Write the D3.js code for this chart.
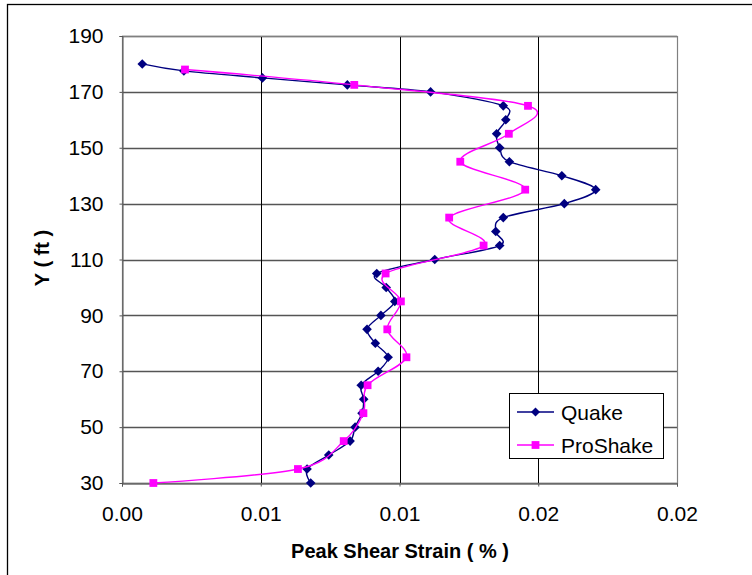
<!DOCTYPE html>
<html>
<head>
<meta charset="utf-8">
<script src="https://cdn.jsdelivr.net/npm/d3@7"></script>
<style>
  html, body { margin: 0; padding: 0; background: #fff; }
  svg { display: block; }
  text { font-family: "Liberation Sans", Arial, sans-serif; fill: #000; }
</style>
</head>
<body>
<svg id="chart" width="752" height="575"></svg>
<script>
// ---- data ----
const quakeDepth  = [180, 177.5, 175, 172.5, 170, 165, 160, 155, 150, 145, 140, 135, 130, 125, 120, 115, 110, 105, 100, 95, 90, 85, 80, 75, 70, 65, 60, 55, 50, 45, 40, 35, 30];
const quakeStrain = [0.00073, 0.00223, 0.00506, 0.00812, 0.01112, 0.01374, 0.01383, 0.01350, 0.01361, 0.01396, 0.01585, 0.01707, 0.01594, 0.01374, 0.01347, 0.01361, 0.01127, 0.00918, 0.00952, 0.00983, 0.00933, 0.00883, 0.00913, 0.00959, 0.00923, 0.00862, 0.00871, 0.00865, 0.00840, 0.00822, 0.00745, 0.00667, 0.00680];
const proDepth    = [178, 172.5, 165, 155, 145, 135, 125, 115, 105, 95, 85, 75, 65, 55, 45, 35, 30];
const proStrain   = [0.00227, 0.00837, 0.01463, 0.01394, 0.01219, 0.01453, 0.01179, 0.01303, 0.00950, 0.01005, 0.00956, 0.01025, 0.00885, 0.00870, 0.00799, 0.00634, 0.00113];
const xTickValues = [0, 0.005, 0.01, 0.015, 0.02];
const xTickLabels = ["0.00", "0.01", "0.01", "0.02", "0.02"];
const yTickValues = [30, 50, 70, 90, 110, 130, 150, 170, 190];
const seriesNames = ["Quake", "ProShake"];
const seriesColors = ["#000080", "#FF00FF"];

// ---- layout ----
const svg = d3.select("#chart");
const L = 122, R = 677, T = 36, B = 483;
const x = d3.scaleLinear().domain([0, 0.02]).range([L, R]);
const y = d3.scaleLinear().domain([30, 190]).range([B, T]);

// outer chart border
svg.append("rect").attr("x", 7.5).attr("y", 4.5).attr("width", 800).attr("height", 700)
  .attr("fill", "#fff").attr("stroke", "#000").attr("stroke-width", 1.3);

// horizontal gridlines
svg.append("g").selectAll("line").data(yTickValues).join("line")
  .attr("x1", L).attr("x2", R)
  .attr("y1", d => Math.round(y(d)) + 0.5).attr("y2", d => Math.round(y(d)) + 0.5)
  .attr("stroke", "#555").attr("stroke-width", 1.4);
// vertical gridlines
svg.append("g").selectAll("line").data(xTickValues).join("line")
  .attr("y1", T).attr("y2", B)
  .attr("x1", d => Math.round(x(d)) + 0.5).attr("x2", d => Math.round(x(d)) + 0.5)
  .attr("stroke", "#000").attr("stroke-width", 1);

// plot border
svg.append("rect").attr("x", L + 0.5).attr("y", T + 0.5).attr("width", R - L).attr("height", B - T)
  .attr("fill", "none").attr("stroke", "#808080").attr("stroke-width", 1.2);

// axes (labels via d3 axes)
const yAxis = d3.axisLeft(y).tickValues(yTickValues).tickSize(3).tickPadding(16).tickFormat(d3.format("d"));
const gy = svg.append("g").attr("transform", `translate(${L + 0.5},0)`).call(yAxis);
gy.select(".domain").attr("stroke", "#555");
gy.selectAll(".tick line").attr("stroke", "#555");
gy.selectAll("text").style("font-size", "21px").attr("fill", "#000")
  .style("font-family", "'Liberation Sans', Arial, sans-serif");

const xAxis = d3.axisBottom(x).tickValues(xTickValues).tickSize(3).tickPadding(20)
  .tickFormat((d, i) => xTickLabels[i]);
const gx = svg.append("g").attr("transform", `translate(0,${B + 0.5})`).call(xAxis);
gx.select(".domain").attr("stroke", "#555");
gx.selectAll(".tick line").attr("stroke", "#555");
gx.selectAll("text").style("font-size", "21px").attr("fill", "#000")
  .style("font-family", "'Liberation Sans', Arial, sans-serif");

// axis titles
svg.append("text").attr("x", 400).attr("y", 558).attr("text-anchor", "middle")
  .style("font-size", "20px").style("font-weight", "bold").text("Peak Shear Strain ( % )");
svg.append("text").attr("transform", "translate(49,258) rotate(-90)").attr("text-anchor", "middle")
  .style("font-size", "20px").style("font-weight", "bold").text("Y ( ft )");

// series
const curve = d3.curveCatmullRom.alpha(0);
const line = d3.line().x(d => x(d[0])).y(d => y(d[1])).curve(curve);
const quake = quakeStrain.map((v, i) => [v, quakeDepth[i]]);
const pro = proStrain.map((v, i) => [v, proDepth[i]]);

const diamond = (s) => `M0,${-s}L${s},0L0,${s}L${-s},0Z`;
const square = (s) => `M${-s},${-s}H${s}V${s}H${-s}Z`;

function drawSeries(data, color, shape) {
  const g = svg.append("g");
  g.append("path").datum(data).attr("d", line).attr("fill", "none")
    .attr("stroke", color).attr("stroke-width", 1.4);
  g.selectAll("path.m").data(data).join("path").attr("class", "m")
    .attr("transform", d => `translate(${x(d[0])},${y(d[1])})`)
    .attr("d", shape).attr("fill", color).attr("stroke", "none");
}
drawSeries(quake, seriesColors[0], diamond(4.8));
drawSeries(pro, seriesColors[1], square(3.9));

// legend
const lg = svg.append("g");
lg.append("rect").attr("x", 509.5).attr("y", 393.5).attr("width", 154).attr("height", 65)
  .attr("fill", "#fff").attr("stroke", "#000").attr("stroke-width", 1);
const legendShapes = [diamond(4.5), square(3.9)];
seriesNames.forEach((name, i) => {
  const yy = 412 + i * 33;
  lg.append("line").attr("x1", 517).attr("x2", 554).attr("y1", yy).attr("y2", yy)
    .attr("stroke", seriesColors[i]).attr("stroke-width", 1.4);
  lg.append("path").attr("transform", `translate(535.5,${yy})`).attr("d", legendShapes[i])
    .attr("fill", seriesColors[i]);
  lg.append("text").attr("x", 561).attr("y", yy + 7.5).style("font-size", "21px").text(name);
});
</script>
</body>
</html>
